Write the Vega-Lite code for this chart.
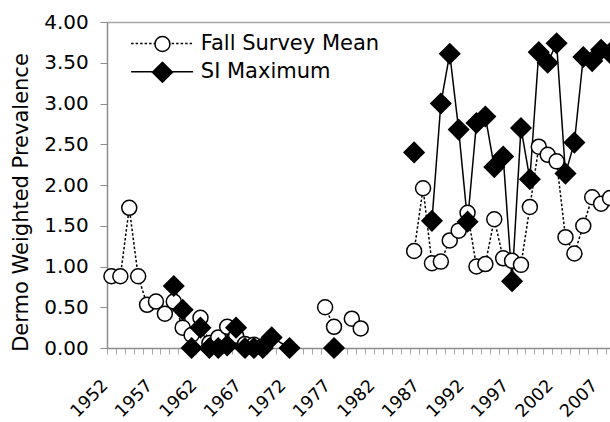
{
  "$schema": "https://vega.github.io/schema/vega-lite/v6.json",
  "width": 503,
  "height": 326,
  "autosize": {"type": "none"},
  "padding": {"left": 107, "top": 22, "right": 0, "bottom": 74},
  "background": "white",
  "config": {"view": {"stroke": null}, "font": "DejaVu Sans"},
  "data": {
    "values": [
      {"year": 1952, "series": "Fall Survey Mean", "value": 0.88},
      {"year": 1953, "series": "Fall Survey Mean", "value": 0.88},
      {"year": 1954, "series": "Fall Survey Mean", "value": 1.72},
      {"year": 1955, "series": "Fall Survey Mean", "value": 0.88},
      {"year": 1956, "series": "Fall Survey Mean", "value": 0.53},
      {"year": 1957, "series": "Fall Survey Mean", "value": 0.57},
      {"year": 1958, "series": "Fall Survey Mean", "value": 0.42},
      {"year": 1959, "series": "Fall Survey Mean", "value": 0.57},
      {"year": 1960, "series": "Fall Survey Mean", "value": 0.25},
      {"year": 1961, "series": "Fall Survey Mean", "value": 0.16},
      {"year": 1962, "series": "Fall Survey Mean", "value": 0.37},
      {"year": 1963, "series": "Fall Survey Mean", "value": 0.06},
      {"year": 1964, "series": "Fall Survey Mean", "value": 0.13},
      {"year": 1965, "series": "Fall Survey Mean", "value": 0.26},
      {"year": 1966, "series": "Fall Survey Mean", "value": 0.15},
      {"year": 1967, "series": "Fall Survey Mean", "value": 0.05},
      {"year": 1968, "series": "Fall Survey Mean", "value": 0.04},
      {"year": 1969, "series": "Fall Survey Mean", "value": 0.02},
      {"year": 1970, "series": "Fall Survey Mean", "value": null},
      {"year": 1976, "series": "Fall Survey Mean", "value": 0.50},
      {"year": 1977, "series": "Fall Survey Mean", "value": 0.26},
      {"year": 1978, "series": "Fall Survey Mean", "value": null},
      {"year": 1979, "series": "Fall Survey Mean", "value": 0.36},
      {"year": 1980, "series": "Fall Survey Mean", "value": 0.24},
      {"year": 1981, "series": "Fall Survey Mean", "value": null},
      {"year": 1986, "series": "Fall Survey Mean", "value": 1.19},
      {"year": 1987, "series": "Fall Survey Mean", "value": 1.96},
      {"year": 1988, "series": "Fall Survey Mean", "value": 1.04},
      {"year": 1989, "series": "Fall Survey Mean", "value": 1.06},
      {"year": 1990, "series": "Fall Survey Mean", "value": 1.32},
      {"year": 1991, "series": "Fall Survey Mean", "value": 1.44},
      {"year": 1992, "series": "Fall Survey Mean", "value": 1.66},
      {"year": 1993, "series": "Fall Survey Mean", "value": 1.00},
      {"year": 1994, "series": "Fall Survey Mean", "value": 1.03},
      {"year": 1995, "series": "Fall Survey Mean", "value": 1.58},
      {"year": 1996, "series": "Fall Survey Mean", "value": 1.10},
      {"year": 1997, "series": "Fall Survey Mean", "value": 1.07},
      {"year": 1998, "series": "Fall Survey Mean", "value": 1.02},
      {"year": 1999, "series": "Fall Survey Mean", "value": 1.73},
      {"year": 2000, "series": "Fall Survey Mean", "value": 2.47},
      {"year": 2001, "series": "Fall Survey Mean", "value": 2.37},
      {"year": 2002, "series": "Fall Survey Mean", "value": 2.29},
      {"year": 2003, "series": "Fall Survey Mean", "value": 1.36},
      {"year": 2004, "series": "Fall Survey Mean", "value": 1.16},
      {"year": 2005, "series": "Fall Survey Mean", "value": 1.50},
      {"year": 2006, "series": "Fall Survey Mean", "value": 1.85},
      {"year": 2007, "series": "Fall Survey Mean", "value": 1.77},
      {"year": 2008, "series": "Fall Survey Mean", "value": 1.84},
      {"year": 1959, "series": "SI Maximum", "value": 0.76},
      {"year": 1960, "series": "SI Maximum", "value": 0.47},
      {"year": 1961, "series": "SI Maximum", "value": 0.00},
      {"year": 1962, "series": "SI Maximum", "value": 0.25},
      {"year": 1963, "series": "SI Maximum", "value": 0.00},
      {"year": 1964, "series": "SI Maximum", "value": 0.00},
      {"year": 1965, "series": "SI Maximum", "value": 0.03},
      {"year": 1966, "series": "SI Maximum", "value": 0.25},
      {"year": 1967, "series": "SI Maximum", "value": 0.00},
      {"year": 1968, "series": "SI Maximum", "value": 0.00},
      {"year": 1969, "series": "SI Maximum", "value": 0.00},
      {"year": 1970, "series": "SI Maximum", "value": 0.13},
      {"year": 1972, "series": "SI Maximum", "value": 0.00},
      {"year": 1973, "series": "SI Maximum", "value": null},
      {"year": 1977, "series": "SI Maximum", "value": 0.00},
      {"year": 1978, "series": "SI Maximum", "value": null},
      {"year": 1986, "series": "SI Maximum", "value": 2.40},
      {"year": 1987, "series": "SI Maximum", "value": null},
      {"year": 1988, "series": "SI Maximum", "value": 1.56},
      {"year": 1989, "series": "SI Maximum", "value": 3.00},
      {"year": 1990, "series": "SI Maximum", "value": 3.61},
      {"year": 1991, "series": "SI Maximum", "value": 2.68},
      {"year": 1992, "series": "SI Maximum", "value": 1.55},
      {"year": 1993, "series": "SI Maximum", "value": 2.76},
      {"year": 1994, "series": "SI Maximum", "value": 2.84},
      {"year": 1995, "series": "SI Maximum", "value": 2.22},
      {"year": 1996, "series": "SI Maximum", "value": 2.35},
      {"year": 1997, "series": "SI Maximum", "value": 0.82},
      {"year": 1998, "series": "SI Maximum", "value": 2.70},
      {"year": 1999, "series": "SI Maximum", "value": 2.07},
      {"year": 2000, "series": "SI Maximum", "value": 3.63},
      {"year": 2001, "series": "SI Maximum", "value": 3.50},
      {"year": 2002, "series": "SI Maximum", "value": 3.74},
      {"year": 2003, "series": "SI Maximum", "value": 2.14},
      {"year": 2004, "series": "SI Maximum", "value": 2.52},
      {"year": 2005, "series": "SI Maximum", "value": 3.57},
      {"year": 2006, "series": "SI Maximum", "value": 3.52},
      {"year": 2007, "series": "SI Maximum", "value": 3.66},
      {"year": 2008, "series": "SI Maximum", "value": 3.62}
    ]
  },
  "encoding": {
    "y": {
      "field": "value",
      "type": "quantitative",
      "scale": {"domain": [0, 4], "nice": false, "zero": true},
      "axis": {
        "title": "Dermo Weighted Prevalence",
        "values": [0, 0.5, 1, 1.5, 2, 2.5, 3, 3.5, 4],
        "format": ".2f",
        "grid": false,
        "domainColor": "#8c8c8c",
        "domainWidth": 1.5,
        "tickColor": "#8c8c8c",
        "tickSize": 7,
        "tickWidth": 1,
        "labelFont": "DejaVu Sans",
        "labelFontSize": 20,
        "labelColor": "black",
        "labelPadding": 11.7,
        "titleFont": "DejaVu Sans",
        "titleFontSize": 21,
        "titleFontWeight": "normal",
        "titleColor": "black",
        "titleAngle": -90,
        "titleAlign": "center",
        "titleBaseline": "middle",
        "titleX": -86,
        "titleY": 180
      }
    }
  },
  "layer": [
    {
      "mark": {"type": "line", "color": "black", "strokeWidth": 1.5},
      "encoding": {
        "x": {
          "field": "year",
          "type": "quantitative",
          "scale": {"domain": [1951.5, 2008], "nice": false, "zero": false},
          "axis": {
            "orient": "bottom",
            "title": null,
            "grid": false,
            "values": [1951.5,1952.5,1953.5,1954.5,1955.5,1956.5,1957.5,1958.5,1959.5,1960.5,1961.5,1962.5,1963.5,1964.5,1965.5,1966.5,1967.5,1968.5,1969.5,1970.5,1971.5,1972.5,1973.5,1974.5,1975.5,1976.5,1977.5,1978.5,1979.5,1980.5,1981.5,1982.5,1983.5,1984.5,1985.5,1986.5,1987.5,1988.5,1989.5,1990.5,1991.5,1992.5,1993.5,1994.5,1995.5,1996.5,1997.5,1998.5,1999.5,2000.5,2001.5,2002.5,2003.5,2004.5,2005.5,2006.5,2007.5],
            "labelExpr": "(datum.value + 0.5 - 1952) % 5 == 0 ? format(datum.value + 0.5, 'd') : ''",
            "labelOverlap": false,
            "labelBound": false,
            "labelFlush": false,
            "labelAngle": -45,
            "labelAlign": "right",
            "labelBaseline": "top",
            "labelOffset": -8.5,
            "labelPadding": 22.3,
            "labelFont": "DejaVu Sans",
            "labelFontSize": 17.5,
            "labelColor": "black",
            "domainColor": "#8c8c8c",
            "domainWidth": 1.5,
            "tickColor": "#a6a6a6",
            "tickSize": 6,
            "tickWidth": 1
          }
        },
        "strokeDash": {
          "field": "series",
          "type": "nominal",
          "scale": {"range": [[2.5, 2], [1, 0]]},
          "legend": {
            "orient": "none",
            "legendX": 22,
            "legendY": 10.5,
            "title": null,
            "padding": 0,
            "columns": 1,
            "clipHeight": 22,
            "rowPadding": 6.2,
            "symbolType": "M-3,0L3,0",
            "symbolSize": 427,
            "symbolOffset": 21.6,
            "symbolStrokeWidth": 1.5,
            "symbolStrokeColor": "black",
            "symbolFillColor": "transparent",
            "labelFont": "DejaVu Sans",
            "labelFontSize": 21,
            "labelColor": "black",
            "labelOffset": 27.2,
            "labelLimit": 0
          }
        }
      }
    },
    {
      "mark": {"type": "point", "filled": true, "stroke": "black", "strokeWidth": 1.5, "opacity": 1},
      "encoding": {
        "x": {
          "field": "year",
          "type": "quantitative",
          "scale": {"domain": [1951.5, 2008], "nice": false, "zero": false},
          "axis": {
            "orient": "top",
            "title": null,
            "grid": false,
            "labels": false,
            "ticks": false,
            "domainColor": "#a6a6a6",
            "domainWidth": 1.5
          }
        },
        "shape": {
          "field": "series",
          "type": "nominal",
          "scale": {"range": ["circle", "diamond"]},
          "legend": {
            "orient": "top-left",
            "offset": 10.5,
            "title": null,
            "padding": 0,
            "columns": 1,
            "clipHeight": 22,
            "rowPadding": 6.2,
            "symbolOffset": 33.45,
            "symbolStrokeColor": "black",
            "symbolStrokeWidth": 1.5,
            "labelFontSize": 20,
            "labelExpr": "''",
            "encoding": {"symbols": {"stroke": {"value": "black"}, "strokeWidth": {"value": 1.5}}}
          }
        },
        "fill": {
          "field": "series",
          "type": "nominal",
          "scale": {"range": ["white", "black"]},
          "legend": {
            "orient": "top-left",
            "offset": 10.5,
            "title": null,
            "padding": 0,
            "columns": 1,
            "clipHeight": 22,
            "rowPadding": 6.2,
            "symbolOffset": 33.45,
            "symbolStrokeColor": "black",
            "symbolStrokeWidth": 1.5,
            "labelFontSize": 20,
            "labelExpr": "''",
            "encoding": {"symbols": {"stroke": {"value": "black"}, "strokeWidth": {"value": 1.5}}}
          }
        },
        "size": {
          "field": "series",
          "type": "nominal",
          "scale": {"range": [225, 400]},
          "legend": {
            "orient": "top-left",
            "offset": 10.5,
            "title": null,
            "padding": 0,
            "columns": 1,
            "clipHeight": 22,
            "rowPadding": 6.2,
            "symbolOffset": 33.45,
            "symbolStrokeColor": "black",
            "symbolStrokeWidth": 1.5,
            "labelFontSize": 20,
            "labelExpr": "''",
            "encoding": {"symbols": {"stroke": {"value": "black"}, "strokeWidth": {"value": 1.5}}}
          }
        }
      }
    }
  ],
  "resolve": {"axis": {"x": "independent"}}
}
